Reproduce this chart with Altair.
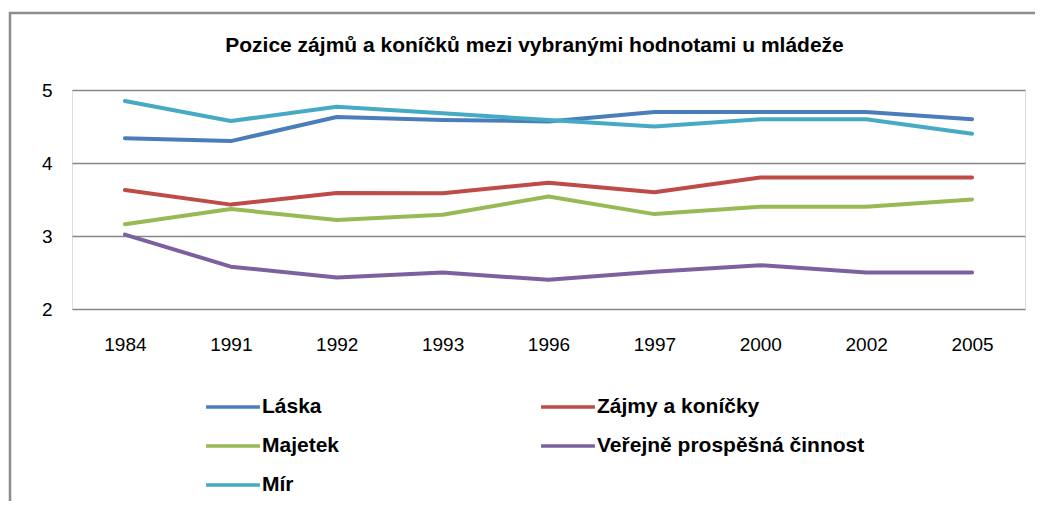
import altair as alt
import pandas as pd

years = ["1984", "1991", "1992", "1993", "1996", "1997", "2000", "2002", "2005"]
series_names = ["Láska", "Zájmy a koníčky", "Majetek", "Veřejně prospěšná činnost", "Mír"]
laska = [4.34, 4.30, 4.63, 4.59, 4.57, 4.70, 4.70, 4.70, 4.60]
zajmy = [3.63, 3.43, 3.59, 3.585, 3.73, 3.60, 3.80, 3.80, 3.80]
majetek = [3.16, 3.37, 3.22, 3.29, 3.54, 3.30, 3.40, 3.40, 3.50]
verejne = [3.02, 2.58, 2.43, 2.50, 2.40, 2.51, 2.60, 2.50, 2.50]
mir = [4.85, 4.575, 4.77, 4.68, 4.59, 4.50, 4.60, 4.60, 4.40]
colors = ["#4A7EBB", "#BE4B48", "#98B954", "#7D60A0", "#46AAC5"]
title_text = "Pozice zájmů a koníčků mezi vybranými hodnotami u mládeže"
y_ticks = [2, 3, 4, 5]

# Vega fills legend columns top-to-bottom; reorder so rows read like the reference
legend_order = [0, 2, 4, 1, 3]
legend_domain = [series_names[i] for i in legend_order]
legend_colors = [colors[i] for i in legend_order]

rows = []
for name, vals in zip(series_names, [laska, zajmy, majetek, verejne, mir]):
    for yr, v in zip(years, vals):
        rows.append({"rok": yr, "hodnota": v, "serie": name})
df = pd.DataFrame(rows)

FONT = "Liberation Sans"

lines = alt.Chart(df).mark_line(strokeWidth=4, strokeCap="round", strokeJoin="round").encode(
    x=alt.X("rok:O", sort=years, scale=alt.Scale(type="point", padding=0.5),
            axis=alt.Axis(title=None, domain=False, ticks=False, labelAngle=0,
                          labelFontSize=19, labelPadding=26, labelColor="#000000",
                          labelFont=FONT)),
    y=alt.Y("hodnota:Q", scale=alt.Scale(domain=[2, 5], nice=False, zero=False),
            axis=alt.Axis(title=None, values=y_ticks, domain=False, ticks=False,
                          grid=True, gridColor="#868686", gridWidth=1.3,
                          labelFontSize=19, labelPadding=20, labelColor="#000000",
                          labelFont=FONT, format="d")),
    color=alt.Color("serie:N", sort=legend_domain,
                    scale=alt.Scale(domain=legend_domain, range=legend_colors),
                    legend=alt.Legend(title=None, orient="none", legendX=132, legendY=288,
                                      columns=2, columnPadding=194, rowPadding=-15,
                                      symbolType="stroke", symbolSize=2900,
                                      symbolStrokeWidth=3.5, labelOffset=0,
                                      labelFontSize=21, labelFontWeight="bold",
                                      labelFont=FONT, labelColor="#000000",
                                      labelLimit=400, padding=0)),
)

frame = alt.Chart(pd.DataFrame({"a": [0]})).mark_rect(
    fill=None, fillOpacity=0, stroke="#8c8c8c", strokeWidth=2.5
).encode(
    x=alt.value(-62), x2=alt.value(1000), y=alt.value(-77), y2=alt.value(440)
)

title = alt.Chart(pd.DataFrame({"t": [title_text]})).mark_text(
    font=FONT, fontSize=21, fontWeight="bold", color="#000000",
    align="center", baseline="alphabetic"
).encode(
    text="t:N", x=alt.value(462.5), y=alt.value(-38.3)
)

chart = alt.layer(lines, frame, title).properties(
    width=953, height=219,
    autosize=alt.AutoSizeParams(type="none"),
    padding={"left": 64, "top": 82, "right": 10, "bottom": 192},
).configure_view(stroke=None).configure(background="white")

chart.save("out.html", embed_options={"renderer": "svg", "actions": False})
